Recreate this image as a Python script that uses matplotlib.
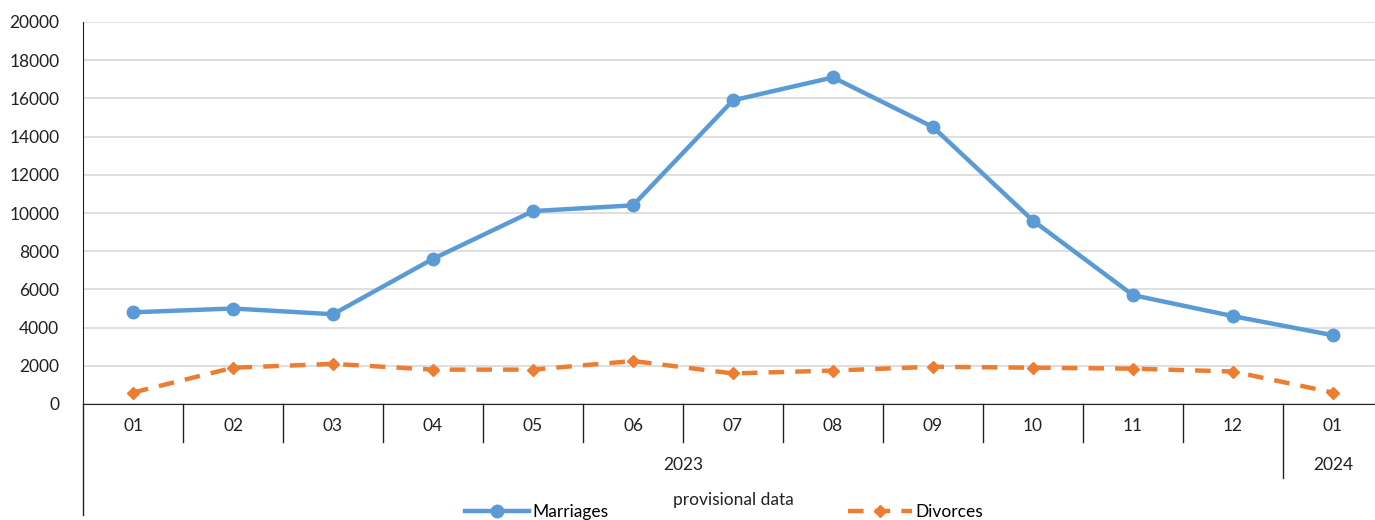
import numpy as np
import matplotlib
matplotlib.use("Agg")
import matplotlib.pyplot as plt
import matplotlib.transforms as mtransforms

plt.rcParams['font.family'] = ['Lato', 'DejaVu Sans']

# data
months = ['01', '02', '03', '04', '05', '06', '07', '08', '09', '10', '11', '12', '01']
years = ['2023'] * 12 + ['2024']
marriages = [4800, 5000, 4700, 7600, 10100, 10400, 15900, 17100, 14500, 9600, 5700, 4600, 3600]
divorces = [600, 1900, 2100, 1800, 1800, 2250, 1600, 1750, 1950, 1900, 1850, 1700, 600]

blue = '#5B9BD5'
orange = '#ED7D31'
fs = 12.5

fig = plt.figure(figsize=(13.75, 5.2), dpi=100)
ax = fig.add_axes([83/1375, 116/520, 1300/1375, 382/520])

x = np.arange(len(months))
ax.plot(x, marriages, color=blue, lw=3.2, marker='o', ms=9, label='Marriages')
ax.plot(x, divorces, color=orange, lw=3.2, ls=(0, (3.5, 2.5)), marker='D', ms=6,
        label='Divorces')

ax.set_xlim(-0.5, len(months) - 0.5)
ax.set_ylim(0, 20000)
ax.set_yticks(np.arange(0, 20001, 2000))
ax.tick_params(axis='y', length=0, labelsize=fs, pad=17, colors='#222222')
ax.set_xticks([])
ax.yaxis.grid(True, color='#d9d9d9', lw=1.2)
ax.set_axisbelow(True)
for s in ['top', 'right']:
    ax.spines[s].set_visible(False)
ax.spines['bottom'].set_color('#222222')
ax.spines['left'].set_color('#222222')

# hierarchical category axis
trans = mtransforms.blended_transform_factory(ax.transData, ax.transAxes)
ax.plot([-0.5, -0.5], [0, -0.29], color='#222222', lw=1, transform=trans, clip_on=False)
for i in range(len(months) - 1):
    low = -0.194 if years[i] != years[i + 1] else -0.0995
    ax.plot([i + 0.5, i + 0.5], [0, low], color='#222222', lw=1,
            transform=trans, clip_on=False)
for i, m in enumerate(months):
    ax.text(i, -0.0576, m, transform=trans, ha='center', va='center', fontsize=fs,
            color='#222222')
for yr in sorted(set(years)):
    idx = [i for i, y in enumerate(years) if y == yr]
    ax.text((idx[0] + idx[-1]) / 2, -0.16, yr, transform=trans, ha='center',
            va='center', fontsize=fs, color='#222222')
ax.text(0.5, -0.251, 'provisional data', transform=ax.transAxes, ha='center',
        va='center', fontsize=fs, color='#222222')

fig.legend(loc='center', bbox_to_anchor=(724/1375, 0.016), ncol=2, frameon=False,
           fontsize=fs, handlelength=3.7, columnspacing=13.8, handletextpad=0.2,
           borderpad=0.2)

fig.savefig('out.png', dpi=100)
